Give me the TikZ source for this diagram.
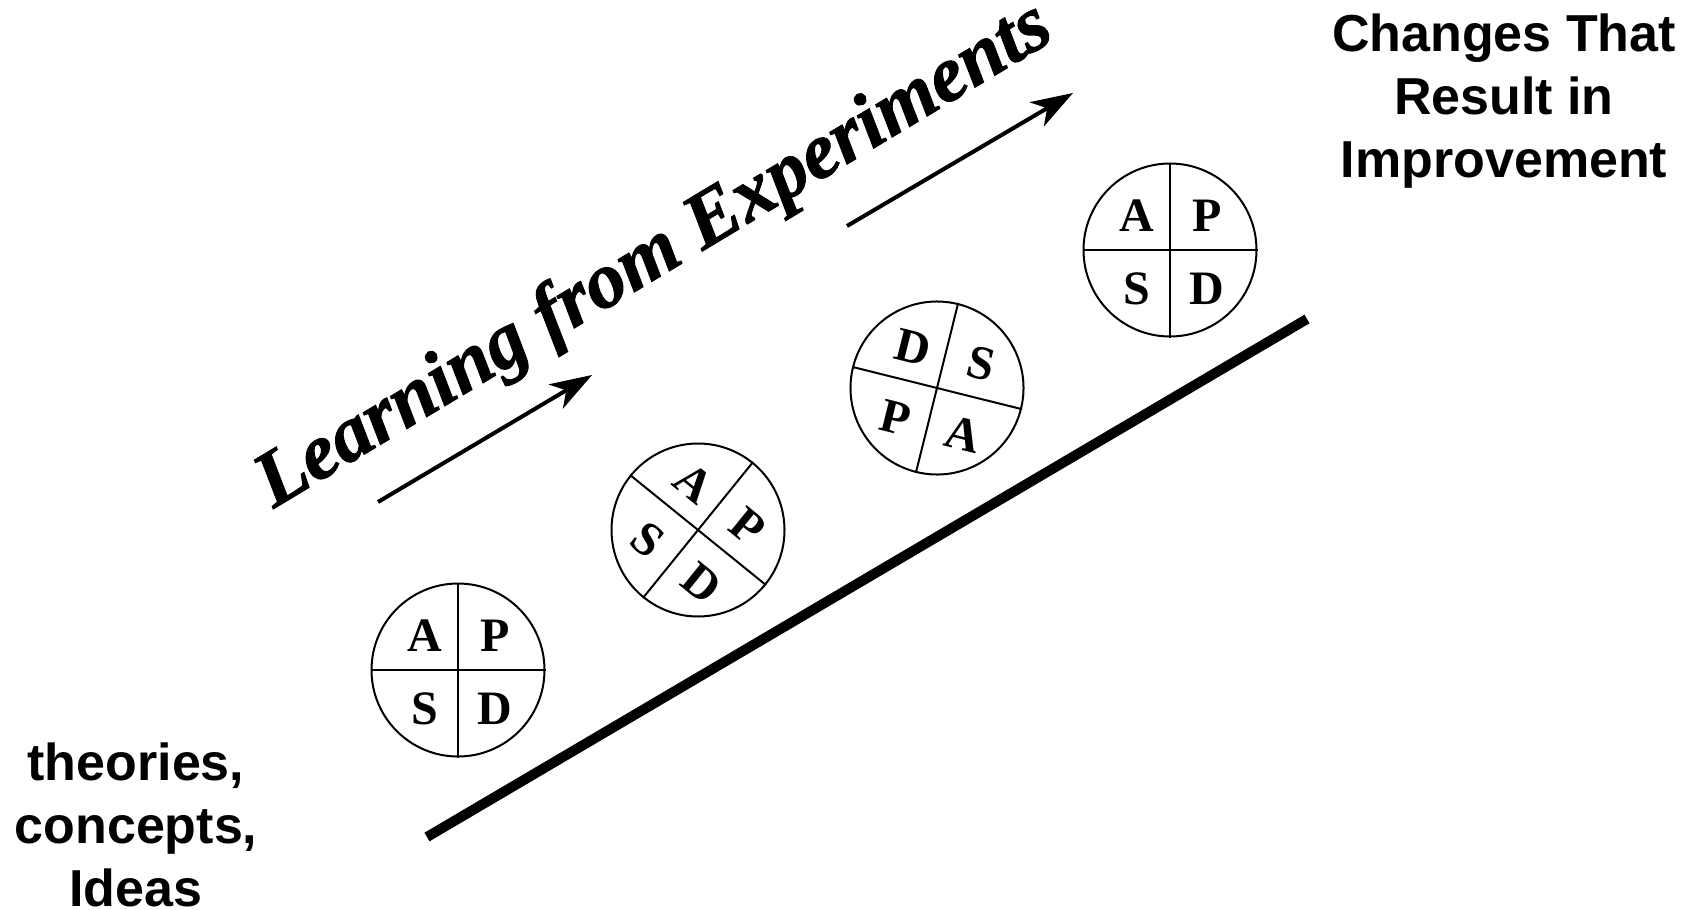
\documentclass[tikz,border=0pt]{standalone}
\usepackage{fontspec}
\setmainfont{Liberation Serif}
\newfontfamily\arialfont{Liberation Sans}
\newfontfamily\learnfont{Liberation Serif}[UprightFont={* Bold Italic}, FakeBold=1.2]
\usetikzlibrary{arrows.meta}

\begin{document}
\begin{tikzpicture}[
    x=1pt, y=-1pt,
    pdsa/.style={
        circle,
        draw,
        line width=2pt,
        minimum size=173pt,
        inner sep=0pt
    },
    quad/.style={line width=2pt},
    ltr/.style={inner sep=0pt, font=\fontsize{48}{48}\selectfont\bfseries},
    arr/.style={-{Stealth[length=42pt, width=28pt, inset=12pt]}, line width=4pt},
    ramp/.style={line width=10pt},
    lab/.style={align=center, inner sep=0pt, font=\arialfont\fontsize{52}{63}\selectfont\bfseries},
    title/.style={inner sep=0pt, font=\learnfont\fontsize{79}{79}\selectfont}
]
\useasboundingbox (0,0) rectangle (1692,910);

% the four cycles, turning as they climb
\foreach \n/\px/\py/\ang/\lA/\lB/\lC/\lD in {
    1/458/670/0/A/P/S/D,
    2/698/530/-39/A/P/S/D,
    3/937/388/-14/D/S/P/A,
    4/1170/250/0/A/P/S/D}
{
    \begin{scope}[shift={(\px,\py)}, rotate=\ang]
        \node[pdsa, rotate=\ang] (c\n) at (0,0) {};
        \draw[quad] (c\n.north) -- (c\n.south);
        \draw[quad] (c\n.west) -- (c\n.east);
        \node[ltr, rotate=\ang] (c\n-tl) at (-33,-34) {\lA};
        \node[ltr, rotate=\ang] (c\n-tr) at (37,-34) {\lB};
        \node[ltr, rotate=\ang] (c\n-bl) at (-33,39) {\lC};
        \node[ltr, rotate=\ang] (c\n-br) at (37,39) {\lD};
    \end{scope}
}

\node[title, rotate=31] (learn) at (655,257) {Learning from Experiments};

\coordinate (a1s) at (378,502);
\coordinate (a1e) at (592,375);
\coordinate (a2s) at (847,226);
\coordinate (a2e) at (1073,93);
\draw[arr] (a1s) -- (a1e);
\draw[arr] (a2s) -- (a2e);

\coordinate (rl) at (427,837);
\coordinate (rr) at (1307,319);
\draw[ramp] (rl) -- (rr);

\node[lab] (goal)  at (1504,101) {Changes That\\Result in\\Improvement};
\node[lab] (start) at (136,825)  {theories,\\concepts,\\Ideas};

\end{tikzpicture}
\end{document}
